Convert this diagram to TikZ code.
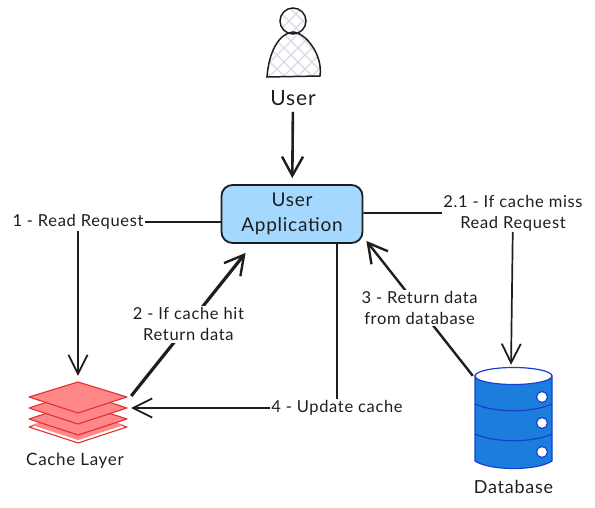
\documentclass[tikz,border=0pt]{standalone}
\usepackage{fontspec}
\setmainfont[LetterSpace=4]{Lato}
\usetikzlibrary{positioning, arrows.meta}
\definecolor{inkcol}{HTML}{1E1E1E}
\definecolor{appfill}{HTML}{A5D8FF}
\definecolor{layerfill}{HTML}{FF8787}
\definecolor{layerline}{HTML}{E03131}
\definecolor{dbfill}{HTML}{1C7EDC}
\definecolor{dbline}{HTML}{1A3FD0}
\definecolor{hatchcol}{HTML}{D5DAE3}
\begin{document}
\begin{tikzpicture}[
  x=1pt, y=-1pt,
  font=\fontsize{16.5}{21}\selectfont,
  app/.style={draw=inkcol, rounded corners=11pt, minimum width=141pt, minimum height=58pt,
              fill=appfill, line width=1.8pt, align=center, text=inkcol,
              font=\fontsize{19}{25}\selectfont},
  area/.style={inner sep=0pt},
  caption/.style={text=inkcol, inner sep=1pt},
  arr/.style={-{Straight Barb[length=19pt, width=19pt, line width=1.8pt]}, line width=1.7pt, color=inkcol},
  heavy/.style={-{Straight Barb[length=19pt, width=21pt, line width=2.4pt]}, line width=3.2pt, color=inkcol},
  lbl/.style={fill=white, align=center, text=inkcol, inner sep=1.5pt},
  layer/.style={draw=layerline, fill=layerfill, line width=1.1pt, line join=round},
  dbpart/.style={draw=dbline, fill=dbfill, line width=1.2pt},
  bodyline/.style={draw=inkcol, line width=1.5pt},
]
\useasboundingbox (0,0) rectangle (595,508);

% Main box
\node[app] (app) at (292,214) {User\\Application};

% User
\node[area, minimum width=54pt, minimum height=68pt] (person) at (293,43) {};
\begin{scope}
  \clip (293,21) circle (13);
  \foreach \d in {-60,-46,...,60} {
    \draw[hatchcol, line width=1.1pt] (293+\d-30,-9) -- (293+\d+30,51);
    \draw[hatchcol, line width=1.1pt] (293+\d+30,-9) -- (293+\d-30,51);
  }
\end{scope}
\begin{scope}
  \clip (267,77) .. controls (269,50) and (280,33) .. (293,32) .. controls (306,33) and (323,55) .. (320,76) -- cycle;
  \foreach \d in {-100,-86,...,100} {
    \draw[hatchcol, line width=1.1pt] (293+\d-50,5) -- (293+\d+50,105);
    \draw[hatchcol, line width=1.1pt] (293+\d+50,5) -- (293+\d-50,105);
  }
\end{scope}
\draw[bodyline] (293,21) circle (13);
\draw[bodyline] (267,77) .. controls (269,50) and (280,33) .. (293,32) .. controls (306,33) and (323,55) .. (320,76) -- cycle;
\node[caption, below=12pt of person, font=\fontsize{21}{24}\selectfont] (userlbl) {User};

% Cache layer
\node[area, minimum width=98pt, minimum height=52pt] (cache) at (78,408) {};
\draw[layer, fill=white] (78,411) -- (127,427) -- (78,443) -- (29,427) -- cycle;
\draw[layer, draw=none] (78,409) -- (124,425) -- (78,440) -- (32,425) -- cycle;
\draw[layer] (78,403) -- (127,419) -- (78,435) -- (29,419) -- cycle;
\draw[layer] (78,392) -- (127,408) -- (78,424) -- (29,408) -- cycle;
\draw[layer] (78,382) -- (127,397) -- (78,413) -- (29,397) -- cycle;
\node[caption, font=\fontsize{17}{20}\selectfont] (cachelbl) at (75,461) {Cache Layer};

% Database
\node[area, minimum width=77pt, minimum height=100pt] (db) at (513.5,418) {};
\draw[dbpart] (475,376) -- (475,461) .. controls (490,471) and (537,471) .. (552,461) -- (552,376) -- cycle;
\draw[dbpart, fill=white] (513.5,376) ellipse (38.5 and 8.5);
\draw[dbline, line width=1.2pt] (475,404) .. controls (495,413) and (532,413) .. (552,404);
\draw[dbline, line width=1.2pt] (475,434) .. controls (495,443) and (532,443) .. (552,434);
\foreach \yy in {397,423,452} {
  \draw[dbline, fill=white, line width=1.2pt] (542,\yy) circle (5.5);
}
\node[caption, below=11pt of db, font=\fontsize{18}{20}\selectfont] (dblbl) {Database};

% === Arrows ===
\draw[heavy, line width=2.6pt, shorten <=5pt, shorten >=6pt] (userlbl) -- (app);

\draw[arr, shorten >=6pt] (app.west |- 0,222) -- (78,222) -- node[pos=0, lbl] (read) {1 - Read Request} (cache.north);

\draw[heavy, shorten >=0pt] ([shift={(4,-12)}]cache.east) --
  node[lbl, pos=0.5] (hit) {2 - If cache hit\\Return data} ([shift={(25,9)}]app.south west);

\draw[arr, shorten >=3pt] ([yshift=1pt]app.east) -- (513,213) --
  node[pos=0, lbl] (miss) {2.1 - If cache miss\\Read Request} (db.north -| 511,0);

\draw[heavy, line width=2.4pt] ([shift={(-2,8)}]db.north west) --
  node[lbl, pos=0.5] (ret) {3 - Return data\\from database} ([shift={(3,-3)}]app.south east);

\draw[arr, shorten >=4pt] (app.south -| 337,0) -- (337,408) --
  node[pos=0, lbl] (upd) {4 - Update cache} (cache.east);

\end{tikzpicture}
\end{document}
